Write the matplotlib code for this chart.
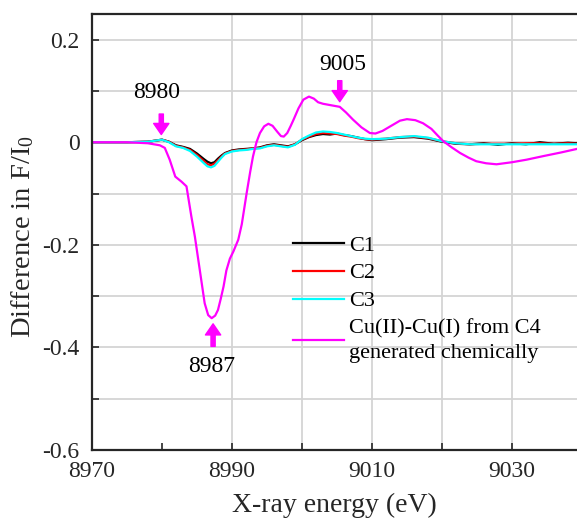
import matplotlib.pyplot as plt

plt.rcParams['font.family'] = ['Liberation Serif', 'DejaVu Serif']
plt.rcParams['mathtext.fontset'] = 'custom'
plt.rcParams['mathtext.rm'] = 'Liberation Serif'
plt.rcParams['mathtext.it'] = 'Liberation Serif:italic'

# magenta: Cu(II)-Cu(I) difference from C4
energy_c4 = [8970, 8975, 8978, 8979.7, 8980.4, 8981.1, 8981.9, 8982.8, 8983.5, 8984.2,
             8984.7, 8985.4, 8986.1, 8986.6, 8987.1, 8987.6, 8988.0, 8988.4, 8988.8, 8989.2,
             8989.7, 8990.2, 8990.9, 8991.4, 8992.1, 8992.6, 8993.0, 8993.5, 8994.0, 8994.6,
             8995.2, 8995.8, 8996.5, 8997.0, 8997.4, 8997.9, 8998.4, 8998.8, 8999.5, 9000.2,
             9001.0, 9001.7, 9002.3, 9003.0, 9004.2, 9005.4, 9006.3, 9007.3, 9008.5, 9009.7,
             9010.5, 9011.5, 9013.0, 9014.0, 9015.0, 9016.2, 9017.3, 9018.5, 9019.4, 9020.2,
             9021.4, 9022.6, 9023.8, 9024.9, 9026.3, 9027.8, 9030.0, 9032.1, 9034.5, 9037.0,
             9039.3]
diff_c4 = [0, 0, -0.002, -0.006, -0.011, -0.034, -0.067, -0.077, -0.086, -0.145,
           -0.184, -0.249, -0.314, -0.337, -0.343, -0.338, -0.327, -0.305, -0.281, -0.250,
           -0.227, -0.213, -0.190, -0.160, -0.099, -0.058, -0.028, 0.000, 0.018, 0.031,
           0.036, 0.032, 0.020, 0.012, 0.011, 0.018, 0.032, 0.044, 0.066, 0.083,
           0.089, 0.085, 0.078, 0.075, 0.072, 0.069, 0.058, 0.044, 0.029, 0.018,
           0.017, 0.022, 0.034, 0.042, 0.045, 0.043, 0.037, 0.026, 0.013, 0.002,
           -0.010, -0.021, -0.030, -0.037, -0.041, -0.043, -0.039, -0.034, -0.027, -0.020,
           -0.013]

# C1, C2, C3 difference spectra
energy = [8970, 8975, 8978, 8979, 8980, 8981, 8982, 8983, 8984, 8985,
          8986, 8986.5, 8987, 8987.5, 8988, 8988.5, 8989, 8990, 8991, 8992,
          8993, 8994, 8995, 8996, 8997, 8998, 8999, 9000, 9001, 9002,
          9003, 9004, 9005, 9006, 9007, 9008, 9009, 9010, 9012, 9014,
          9016, 9018, 9020, 9022, 9024, 9026, 9028, 9030, 9032, 9034,
          9036, 9038, 9039.3]
c1 = [0, 0, 0.001, 0.003, 0.005, 0.001, -0.006, -0.009, -0.013, -0.022,
      -0.033, -0.038, -0.041, -0.039, -0.032, -0.026, -0.021, -0.016, -0.014, -0.013,
      -0.012, -0.010, -0.006, -0.004, -0.006, -0.008, -0.004, 0.004, 0.010, 0.014,
      0.016, 0.015, 0.017, 0.014, 0.012, 0.009, 0.006, 0.004, 0.006, 0.009,
      0.010, 0.007, 0.001, -0.003, -0.004, -0.002, -0.005, -0.002, -0.004, 0.000,
      -0.003, -0.001, -0.002]
c2 = [0, 0, 0.001, 0.003, 0.005, 0.001, -0.007, -0.010, -0.015, -0.025,
      -0.037, -0.043, -0.045, -0.042, -0.035, -0.028, -0.022, -0.017, -0.015, -0.014,
      -0.012, -0.011, -0.007, -0.005, -0.007, -0.009, -0.004, 0.005, 0.011, 0.016,
      0.018, 0.017, 0.016, 0.013, 0.011, 0.008, 0.006, 0.005, 0.007, 0.010,
      0.011, 0.008, 0.002, -0.002, -0.004, -0.003, -0.003, -0.003, -0.002, -0.002,
      -0.003, -0.002, -0.003]
c3 = [0, 0, 0.001, 0.003, 0.005, 0.000, -0.008, -0.011, -0.017, -0.028,
      -0.041, -0.047, -0.049, -0.046, -0.038, -0.030, -0.023, -0.018, -0.016, -0.015,
      -0.013, -0.012, -0.008, -0.006, -0.008, -0.010, -0.005, 0.006, 0.013, 0.019,
      0.021, 0.020, 0.018, 0.015, 0.012, 0.009, 0.007, 0.006, 0.007, 0.010,
      0.012, 0.009, 0.002, -0.002, -0.004, -0.004, -0.004, -0.004, -0.004, -0.004,
      -0.004, -0.004, -0.004]

fig = plt.figure(figsize=(5.77, 5.18), dpi=100)
ax = fig.add_axes([92 / 577, 68 / 518, 485 / 577, 436 / 518])

ax.plot(energy, c1, color='black', lw=1.6, label='C1')
ax.plot(energy, c2, color='red', lw=1.6, label='C2')
ax.plot(energy, c3, color='cyan', lw=1.6, label='C3')
ax.plot(energy_c4, diff_c4, color='magenta', lw=1.6,
        label='Cu(II)-Cu(I) from C4\ngenerated chemically')

ax.set_xlim(8970, 9039.3)
ax.set_ylim(-0.6, 0.25)
ax.set_xticks([8970, 8980, 8990, 9000, 9010, 9020, 9030])
ax.set_xticklabels(['8970', '', '8990', '', '9010', '', '9030'])
ax.set_yticks([0.2, 0.1, 0, -0.1, -0.2, -0.3, -0.4, -0.5, -0.6])
ax.set_yticklabels(['0.2', '', '0', '', '-0.2', '', '-0.4', '', '-0.6'])
ax.tick_params(direction='in', length=5, width=1.2, labelsize=17, colors='#262626',
               top=False, right=False)
ax.tick_params(axis='x', pad=8)
ax.tick_params(axis='y', pad=9)

# grid (no vertical line at 8980)
for x in [8990, 9000, 9010, 9020, 9030]:
    ax.axvline(x, color='#d4d4d4', lw=1.3, zorder=0)
for y in [0.2, 0.1, 0, -0.1, -0.2, -0.3, -0.4, -0.5]:
    ax.axhline(y, color='#d4d4d4', lw=1.3, zorder=0)

for s in ['left', 'bottom', 'top']:
    ax.spines[s].set_color('#262626')
    ax.spines[s].set_linewidth(1.6)
ax.spines['right'].set_visible(False)

ax.set_xlabel('X-ray energy (eV)', fontsize=20, color='#262626', labelpad=8)
ax.set_ylabel('Difference in F/I$_0$', fontsize=20.5, color='#262626', labelpad=1)
ax.yaxis.set_label_coords(-0.115, 0.49)

arrow = dict(facecolor='magenta', edgecolor='magenta', width=3, headwidth=11, headlength=8)
ax.annotate('', xy=(8979.9, 0.015), xytext=(8979.9, 0.055), arrowprops=arrow)
ax.text(8979.3, 0.097, '8980', fontsize=17, ha='center', va='center')
ax.annotate('', xy=(9005.4, 0.079), xytext=(9005.4, 0.12), arrowprops=arrow)
ax.text(9005.9, 0.151, '9005', fontsize=17, ha='center', va='center')
ax.annotate('', xy=(8987.3, -0.354), xytext=(8987.3, -0.398), arrowprops=arrow)
ax.text(8987.1, -0.437, '8987', fontsize=17, ha='center', va='center')

leg = ax.legend(loc='upper left', bbox_to_anchor=(0.415, 0.493), frameon=False, fontsize=16,
                handlelength=2.3, handletextpad=0.2, labelspacing=0.33, borderpad=0,
                borderaxespad=0)
for t in leg.get_texts():
    t.set_linespacing(1.45)

fig.savefig('out.png', dpi=100)
